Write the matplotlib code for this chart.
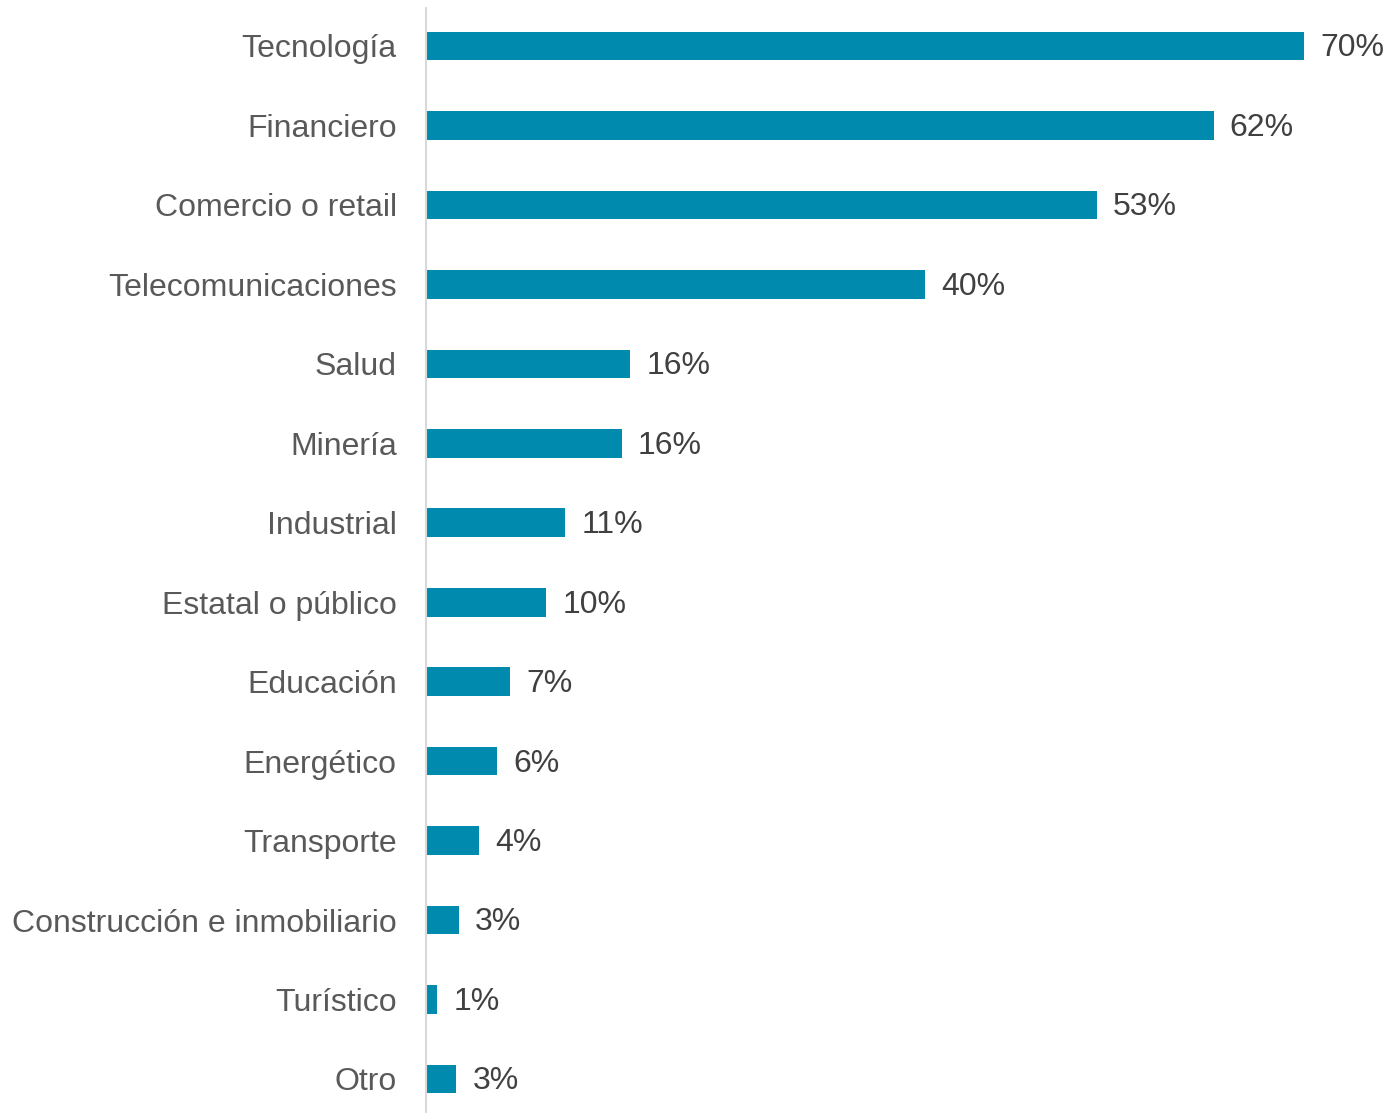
import matplotlib
matplotlib.use("Agg")
import matplotlib.pyplot as plt

plt.rcParams['font.family'] = ['Liberation Sans', 'DejaVu Sans']

sectores = ['Tecnología', 'Financiero', 'Comercio o retail', 'Telecomunicaciones',
            'Salud', 'Minería', 'Industrial', 'Estatal o público', 'Educación',
            'Energético', 'Transporte', 'Construcción e inmobiliario', 'Turístico', 'Otro']
valores = [70.0, 62.8, 53.5, 39.8, 16.3, 15.6, 11.1, 9.6, 6.7, 5.7, 4.2, 2.6, 0.9, 2.4]
etiquetas = ['70%', '62%', '53%', '40%', '16%', '16%', '11%', '10%', '7%', '6%',
             '4%', '3%', '1%', '3%']

W, H = 1387, 1113
fig = plt.figure(figsize=(W / 100, H / 100), dpi=100)
ax = fig.add_axes([426 / W, 0, 1 - 426 / W, 1])

pos = list(range(len(sectores)))
ax.barh(pos, valores, height=0.36, color='#008BAE')

for p, v, t in zip(pos, valores, etiquetas):
    ax.text(v + 1.3, p + 0.03, t, va='center', ha='left', fontsize=23, color='#404040')

# pixel based limits: centres start at y=46, step ~79.5px, 12.54 px per %
step = 79.46
ax.set_ylim((H - 46) / step, -46 / step)
ax.set_xlim(0, (W - 426) / 12.54)

ax.set_yticks(pos)
ax.set_yticklabels(sectores, fontsize=23, color='#595959')
ax.tick_params(axis='y', length=0, pad=21)
ax.set_xticks([])

for s in ['top', 'right', 'bottom']:
    ax.spines[s].set_visible(False)
ax.spines['left'].set_color('#D9D9D9')
ax.spines['left'].set_linewidth(1.5)
ax.spines['left'].set_bounds((H - 46) / step, -38 / step)

fig.savefig('out.png', dpi=100)
